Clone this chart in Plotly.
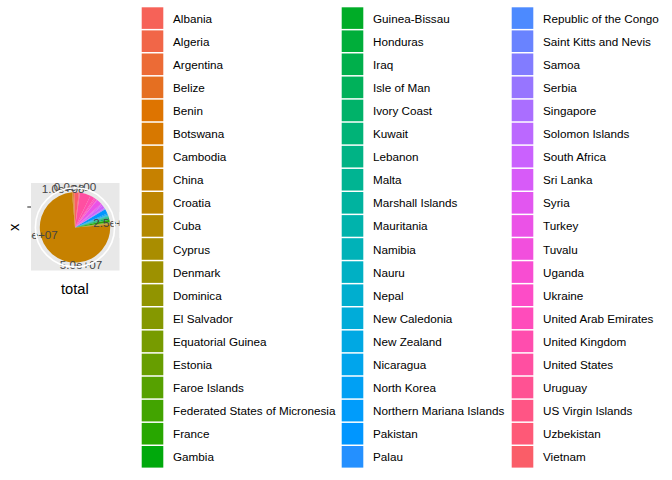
import math
import plotly.graph_objects as go

countries = [
    "Albania", "Algeria", "Argentina", "Belize", "Benin", "Botswana", "Cambodia",
    "China", "Croatia", "Cuba", "Cyprus", "Denmark", "Dominica", "El Salvador",
    "Equatorial Guinea", "Estonia", "Faroe Islands", "Federated States of Micronesia",
    "France", "Gambia",
    "Guinea-Bissau", "Honduras", "Iraq", "Isle of Man", "Ivory Coast", "Kuwait",
    "Lebanon", "Malta", "Marshall Islands", "Mauritania", "Namibia", "Nauru", "Nepal",
    "New Caledonia", "New Zealand", "Nicaragua", "North Korea",
    "Northern Mariana Islands", "Pakistan", "Palau",
    "Republic of the Congo", "Saint Kitts and Nevis", "Samoa", "Serbia", "Singapore",
    "Solomon Islands", "South Africa", "Sri Lanka", "Syria", "Turkey", "Tuvalu",
    "Uganda", "Ukraine", "United Arab Emirates", "United Kingdom", "United States",
    "Uruguay", "US Virgin Islands", "Uzbekistan", "Vietnam",
]
totals = [
    180000, 350000, 420000, 40000, 90000, 60000, 300000,
    78800000, 180000, 280000, 60000, 250000, 7000, 150000,
    50000, 40000, 12000, 8000,
    1200000, 50000,
    40000, 180000, 600000, 10000, 350000, 250000,
    300000, 40000, 7000, 60000, 70000, 5000, 300000,
    50000, 250000, 120000, 500000,
    10000, 2200000, 6000,
    60000, 9000, 12000, 300000, 350000,
    15000, 1400000, 600000, 450000, 2600000, 8000,
    250000, 900000, 600000, 2100000, 5200000,
    150000, 20000, 400000, 1800000,
]
theta_breaks = [0, 2.5e7, 5.0e7, 7.5e7, 1.0e8]
theta_labels = ["0.0e+00", "2.5e+07", "5.0e+07", "7.5e+07", "1.0e+08"]

W, H = 672, 480
FONT = "Liberation Sans, Arial, sans-serif"
GAMMA = 1.25  # the reference rendering looks darker / more saturated than plain sRGB


def hcl_hex(h, c, l):
    Xn, Yn, Zn = 95.047, 100.0, 108.883
    hr = math.radians(h)
    U, V = c * math.cos(hr), c * math.sin(hr)
    Y = Yn * ((l + 16) / 116) ** 3 if l > 8 else Yn * l / 903.3
    t = Xn + Yn + Zn
    x, y = Xn / t, Yn / t
    uN = 2 * x / (6 * y - x + 1.5)
    vN = 4.5 * y / (6 * y - x + 1.5)
    u = U / (13 * l) + uN
    v = V / (13 * l) + vN
    X = 9.0 * Y * u / (4 * v)
    Z = -X / 3 - 5 * Y + 3 * Y / v
    X, Y, Z = X / 100, Y / 100, Z / 100
    rgb = [3.240479 * X - 1.537150 * Y - 0.498535 * Z,
           -0.969256 * X + 1.875992 * Y + 0.041556 * Z,
           0.055648 * X - 0.204043 * Y + 1.057311 * Z]
    out = []
    for ch in rgb:
        ch = 1.055 * ch ** (1 / 2.4) - 0.055 if ch > 0.0031308 else 12.92 * ch
        ch = max(0, min(1, ch)) ** GAMMA
        out.append(int(round(ch * 255)))
    return "#%02X%02X%02X" % tuple(out)


n = len(countries)
colors = [hcl_hex(15 + 360 * i / n, 100, 65) for i in range(n)]

# ggplot stacks first level on top: clockwise from 12 o'clock goes last level first
T = sum(totals)
centers, widths = [0.0] * n, [0.0] * n
cum = 0.0
for i in reversed(range(n)):
    widths[i] = totals[i] / T * 360
    centers[i] = (cum + totals[i] / 2) / T * 360
    cum += totals[i]


def px(xp):
    return xp / W


def py(yp):
    return 1 - yp / H


cx, cy, R = 75.0, 227.4, 39.6

fig = go.Figure()
fig.add_trace(go.Barpolar(
    r=[1] * n, theta=centers, width=widths,
    marker=dict(color=colors, line=dict(width=0)),
    showlegend=False, hoverinfo="skip",
))
# theta-axis labels centred on the outer circle, as in coord_polar
fig.add_trace(go.Scatterpolar(
    r=[1.125] * len(theta_breaks),
    theta=[b / T * 360 for b in theta_breaks],
    text=theta_labels, mode="text", textposition="middle center",
    textfont=dict(size=11.7, color="#444444", family=FONT),
    cliponaxis=False, showlegend=False, hoverinfo="skip",
))

fig.update_layout(
    width=W, height=H,
    margin=dict(l=0, r=0, t=0, b=0),
    paper_bgcolor="white", plot_bgcolor="white",
    font=dict(family=FONT),
    showlegend=False,
    polar=dict(
        domain=dict(x=[px(cx - R), px(cx + R)], y=[py(cy + R), py(cy - R)]),
        bgcolor="rgba(0,0,0,0)",
        bargap=0,
        radialaxis=dict(visible=False, range=[0, 1.125]),
        angularaxis=dict(
            rotation=90, direction="clockwise",
            showticklabels=False, ticks="", showgrid=False,
            showline=True, linecolor="white", linewidth=1.6,
        ),
    ),
)

shapes = [
    dict(type="rect", xref="paper", yref="paper", layer="below",
         x0=px(31), x1=px(119.5), y0=py(270.5), y1=py(183),
         fillcolor="#E8E8E8", line=dict(width=0)),
    # clip theta labels to the panel like ggplot does
    dict(type="rect", xref="paper", yref="paper", layer="above",
         x0=px(0), x1=px(31), y0=py(247), y1=py(225),
         fillcolor="white", line=dict(width=0)),
    dict(type="rect", xref="paper", yref="paper", layer="above",
         x0=px(119.5), x1=px(141), y0=py(238), y1=py(212),
         fillcolor="white", line=dict(width=0)),
    dict(type="rect", xref="paper", yref="paper", layer="above",
         x0=px(20), x1=px(135), y0=py(181.5), y1=py(170),
         fillcolor="white", line=dict(width=0)),
    dict(type="rect", xref="paper", yref="paper", layer="above",
         x0=px(20), x1=px(135), y0=py(279), y1=py(271.5),
         fillcolor="white", line=dict(width=0)),
    dict(type="line", xref="paper", yref="paper",
         x0=px(27.3), x1=px(31), y0=py(207), y1=py(207),
         line=dict(color="#333333", width=1.1)),
]
annotations = [
    dict(text="x", xref="paper", yref="paper", x=px(14), y=py(227),
         textangle=-90, showarrow=False, xanchor="center", yanchor="middle",
         font=dict(size=14.7, color="black", family=FONT)),
    dict(text="total", xref="paper", yref="paper", x=px(75), y=py(289),
         showarrow=False, xanchor="center", yanchor="middle",
         font=dict(size=14.7, color="black", family=FONT)),
]

col_x = [141.7, 341.7, 511.7]
key_top0, pitch, key_size = 7.3, 23.09, 21.6
for i, name in enumerate(countries):
    col, row = i // 20, i % 20
    x0 = col_x[col]
    y0 = key_top0 + row * pitch
    shapes.append(dict(type="rect", xref="paper", yref="paper",
                       x0=px(x0), x1=px(x0 + key_size), y0=py(y0 + key_size), y1=py(y0),
                       fillcolor=colors[i], line=dict(width=0)))
    annotations.append(dict(text=name, xref="paper", yref="paper",
                            x=px(x0 + 29.5), y=py(y0 + key_size / 2),
                            showarrow=False, xanchor="left", yanchor="middle",
                            font=dict(size=11.7, color="black", family=FONT)))

fig.update_layout(shapes=shapes, annotations=annotations)
fig.write_html("out.html")
